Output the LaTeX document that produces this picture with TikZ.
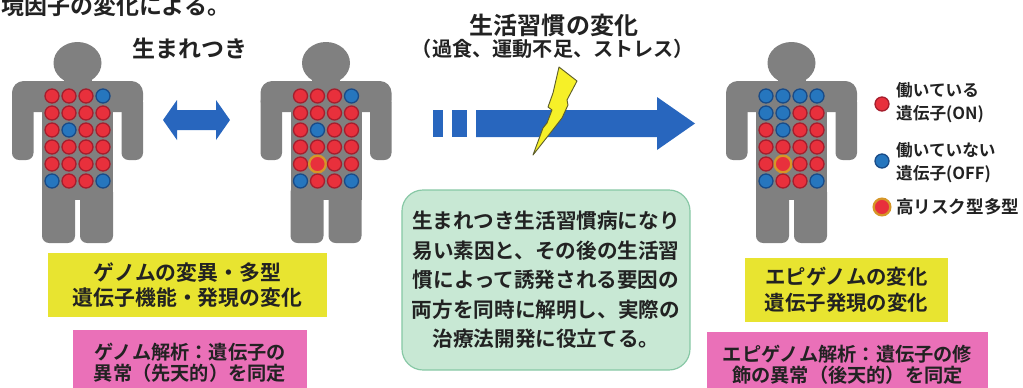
\documentclass[tikz,border=0pt]{standalone}
\usepackage{fontspec}
\setmainfont{Noto Sans CJK JP}[BoldFont={Noto Sans CJK JP Bold}]
\usepackage{tikz, xcolor}
\usetikzlibrary{shapes,arrows}

\definecolor{bodygray}{RGB}{128,128,128}
\definecolor{genR}{RGB}{232,48,60}
\definecolor{genRd}{RGB}{165,30,45}
\definecolor{genB}{RGB}{38,118,190}
\definecolor{genBd}{RGB}{25,75,135}
\definecolor{riskring}{RGB}{214,150,40}
\definecolor{arrblue}{RGB}{40,102,190}
\definecolor{boltyel}{RGB}{246,240,40}
\definecolor{boltedge}{RGB}{95,95,45}
\definecolor{boxyel}{RGB}{232,228,48}
\definecolor{boxpink}{RGB}{234,112,184}
\definecolor{boxgreen}{RGB}{200,232,212}
\definecolor{boxgreenedge}{RGB}{135,200,165}
\definecolor{txt}{RGB}{34,34,34}

\begin{document}
\begin{tikzpicture}[x=0.03cm, y=-0.03cm]
\tikzstyle{geneon}=[circle, fill=genR, draw=genRd, line width=1.1pt, minimum size=0.42cm, inner sep=0pt]
\tikzstyle{geneoff}=[circle, fill=genB, draw=genBd, line width=1.1pt, minimum size=0.42cm, inner sep=0pt]
\tikzstyle{generisk}=[circle, fill=genR, draw=riskring, line width=2pt, minimum size=0.5cm, inner sep=0pt]
\tikzstyle{title}=[text=txt, inner sep=0pt, font=\bfseries\fontsize{19.6}{24}\selectfont]
\tikzstyle{legtext}=[anchor=west, align=left, text=txt, inner sep=0pt, font=\bfseries\fontsize{14.2}{19.6}\selectfont]
\tikzstyle{boxy}=[rectangle, fill=boxyel, align=center, text=txt, minimum height=1.92cm, font=\bfseries\fontsize{17.8}{21.5}\selectfont]
\tikzstyle{boxp}=[rectangle, fill=boxpink, align=center, text=txt, minimum height=1.98cm, font=\bfseries\fontsize{16.4}{17.6}\selectfont]
\tikzstyle{boxg}=[rectangle, rounded corners=18pt, fill=boxgreen, draw=boxgreenedge, line width=1pt, align=center, text=txt, minimum width=8.64cm, minimum height=5.4cm, font=\bfseries\fontsize{17.6}{25.2}\selectfont]

\useasboundingbox (0,0) rectangle (1023,387);

% headings
\node[title, anchor=west] (T0) at (1,6) {境因子の変化による。};
\node[title] (T1) at (190,48) {生まれつき};
\node[title, font=\bfseries\fontsize{20.5}{24}\selectfont] (T2) at (554,25) {生活習慣の変化};
\node[title, font=\bfseries\fontsize{17.2}{24}\selectfont] (T3) at (553,49) {（過食、運動不足、ストレス）};

% person A
\fill[bodygray] (77.5,63) ellipse [x radius=24, y radius=21];
\fill[bodygray] (63.5,70) rectangle (91.5,90);
\fill[bodygray, rounded corners=10pt] (12,81) rectangle (143,112);
\fill[bodygray, rounded corners=6pt] (12,95) rectangle (33.5,160);
\fill[bodygray, rounded corners=6pt] (121.5,95) rectangle (143,160);
\fill[bodygray] (42,95) rectangle (113,200);
\fill[bodygray, rounded corners=6pt] (42,185) rectangle (75,243);
\fill[bodygray, rounded corners=6pt] (80,185) rectangle (113,243);

% person B
\fill[bodygray] (326,63) ellipse [x radius=24, y radius=21];
\fill[bodygray] (312,70) rectangle (340,90);
\fill[bodygray, rounded corners=10pt] (260.5,81) rectangle (391.5,112);
\fill[bodygray, rounded corners=6pt] (260.5,95) rectangle (282,160);
\fill[bodygray, rounded corners=6pt] (370,95) rectangle (391.5,160);
\fill[bodygray] (290.5,95) rectangle (361.5,200);
\fill[bodygray, rounded corners=6pt] (290.5,185) rectangle (323.5,243);
\fill[bodygray, rounded corners=6pt] (328.5,185) rectangle (361.5,243);

% person C
\fill[bodygray] (791.5,63) ellipse [x radius=24, y radius=21];
\fill[bodygray] (777.5,70) rectangle (805.5,90);
\fill[bodygray, rounded corners=10pt] (726,81) rectangle (857,112);
\fill[bodygray, rounded corners=6pt] (726,95) rectangle (747.5,160);
\fill[bodygray, rounded corners=6pt] (835.5,95) rectangle (857,160);
\fill[bodygray] (756,95) rectangle (827,200);
\fill[bodygray, rounded corners=6pt] (756,185) rectangle (789,243);
\fill[bodygray, rounded corners=6pt] (794,185) rectangle (827,243);

% genes of A
\node[geneon] (A0x0) at (52,96) {};
\node[geneon] (A1x0) at (69,96) {};
\node[geneon] (A2x0) at (86,96) {};
\node[geneoff] (A3x0) at (103,96) {};
\node[geneon] (A0x1) at (52,113) {};
\node[geneon] (A1x1) at (69,113) {};
\node[geneon] (A2x1) at (86,113) {};
\node[geneon] (A3x1) at (103,113) {};
\node[geneon] (A0x2) at (52,130) {};
\node[geneoff] (A1x2) at (69,130) {};
\node[geneon] (A2x2) at (86,130) {};
\node[geneon] (A3x2) at (103,130) {};
\node[geneon] (A0x3) at (52,147) {};
\node[geneon] (A1x3) at (69,147) {};
\node[geneon] (A2x3) at (86,147) {};
\node[geneon] (A3x3) at (103,147) {};
\node[geneon] (A0x4) at (52,164) {};
\node[geneon] (A1x4) at (69,164) {};
\node[geneon] (A2x4) at (86,164) {};
\node[geneon] (A3x4) at (103,164) {};
\node[geneoff] (A0x5) at (52,181) {};
\node[geneon] (A1x5) at (69,181) {};
\node[geneon] (A2x5) at (86,181) {};
\node[geneoff] (A3x5) at (103,181) {};

% genes of B
\node[geneon] (B0x0) at (300.5,96) {};
\node[geneon] (B1x0) at (317.5,96) {};
\node[geneon] (B2x0) at (334.5,96) {};
\node[geneoff] (B3x0) at (351.5,96) {};
\node[geneon] (B0x1) at (300.5,113) {};
\node[geneon] (B1x1) at (317.5,113) {};
\node[geneon] (B2x1) at (334.5,113) {};
\node[geneon] (B3x1) at (351.5,113) {};
\node[geneon] (B0x2) at (300.5,130) {};
\node[geneoff] (B1x2) at (317.5,130) {};
\node[geneon] (B2x2) at (334.5,130) {};
\node[geneon] (B3x2) at (351.5,130) {};
\node[geneon] (B0x3) at (300.5,147) {};
\node[geneon] (B1x3) at (317.5,147) {};
\node[geneon] (B2x3) at (334.5,147) {};
\node[geneon] (B3x3) at (351.5,147) {};
\node[geneon] (B0x4) at (300.5,164) {};
\node[generisk] (B1x4) at (317.5,164) {};
\node[geneon] (B2x4) at (334.5,164) {};
\node[geneon] (B3x4) at (351.5,164) {};
\node[geneoff] (B0x5) at (300.5,181) {};
\node[geneon] (B1x5) at (317.5,181) {};
\node[geneon] (B2x5) at (334.5,181) {};
\node[geneoff] (B3x5) at (351.5,181) {};

% genes of C
\node[geneoff] (C0x0) at (766,96) {};
\node[geneoff] (C1x0) at (783,96) {};
\node[geneoff] (C2x0) at (800,96) {};
\node[geneoff] (C3x0) at (817,96) {};
\node[geneoff] (C0x1) at (766,113) {};
\node[geneoff] (C1x1) at (783,113) {};
\node[geneon] (C2x1) at (800,113) {};
\node[geneon] (C3x1) at (817,113) {};
\node[geneon] (C0x2) at (766,130) {};
\node[geneoff] (C1x2) at (783,130) {};
\node[geneon] (C2x2) at (800,130) {};
\node[geneon] (C3x2) at (817,130) {};
\node[geneon] (C0x3) at (766,147) {};
\node[geneon] (C1x3) at (783,147) {};
\node[geneon] (C2x3) at (800,147) {};
\node[geneon] (C3x3) at (817,147) {};
\node[geneon] (C0x4) at (766,164) {};
\node[generisk] (C1x4) at (783,164) {};
\node[geneon] (C2x4) at (800,164) {};
\node[geneon] (C3x4) at (817,164) {};
\node[geneoff] (C0x5) at (766,181) {};
\node[geneon] (C1x5) at (783,181) {};
\node[geneon] (C2x5) at (800,181) {};
\node[geneoff] (C3x5) at (817,181) {};

% arrows
\fill[arrblue] (163,120) -- (177,100) -- (177,110) -- (216,110) -- (216,100) -- (230,120)
  -- (216,140) -- (216,130) -- (177,130) -- (177,140) -- cycle;
\fill[arrblue] (433,110) rectangle (443,137);
\fill[arrblue] (452,110) rectangle (467,137);
\fill[arrblue] (476,110) -- (657,110) -- (657,97) -- (695,123.5) -- (657,150) -- (657,137)
  -- (476,137) -- cycle;
\filldraw[fill=boltyel, draw=boltedge, line width=0.8pt, line join=round] (559,67) -- (577,81)
  -- (567,100) -- (568,105) -- (562,118) -- (555,127) -- (533,155) -- (543,128) -- (547,123)
  -- (552,110) -- (548,107) -- (553,93) -- cycle;

% legend
\node[geneon] (Lon) at (882,104) {};
\node[legtext] (Lontxt) at (896,103) {働いている\\遺伝子(ON)};
\node[geneoff] (Loff) at (882,161) {};
\node[legtext] (Lofftxt) at (896,163) {働いていない\\遺伝子(OFF)};
\node[generisk] (Lrisk) at (882,207) {};
\node[legtext, font=\bfseries\fontsize{15}{19.6}\selectfont] (Lrisktxt) at (896,207) {高リスク型多型};

% boxes
\node[boxy, minimum width=8.37cm] (Ygen) at (187.5,285) {ゲノムの変異・多型\\遺伝子機能・発現の変化};
\node[boxp, minimum width=7.02cm] (Pgen) at (190,363) {ゲノム解析：遺伝子の\\異常（先天的）を同定};
\node[boxg] (Gmid) at (546,280) {生まれつき生活習慣病になり\\易い素因と、その後の生活習\\慣によって誘発される要因の\\両方を同時に解明し、実際の\\治療法開発に役立てる。};
\node[boxy, minimum width=6.09cm, font=\bfseries\fontsize{17.4}{22}\selectfont] (Yepi) at (846.5,290) {エピゲノムの変化\\遺伝子発現の変化};
\node[boxp, minimum width=8.43cm] (Pepi) at (847.5,365) {エピゲノム解析：遺伝子の修\\飾の異常（後天的）を同定};
\end{tikzpicture}
\end{document}
